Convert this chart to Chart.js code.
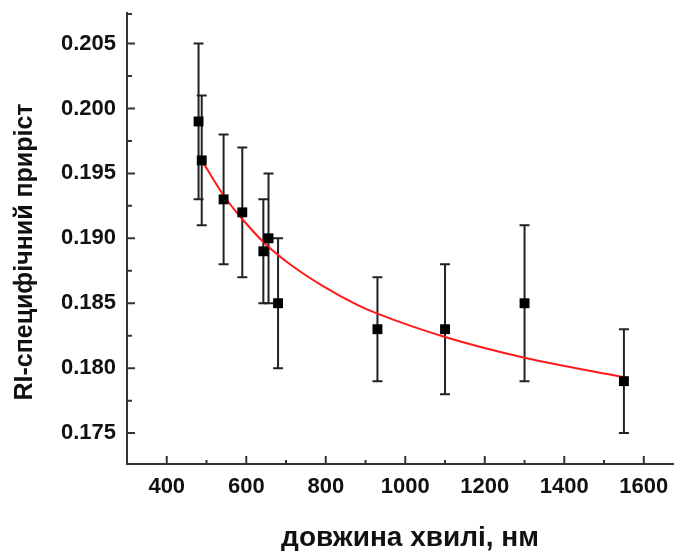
<!DOCTYPE html>
<html>
<head>
<meta charset="utf-8">
<script src="https://cdn.jsdelivr.net/npm/chart.js@4.4.0/dist/chart.umd.min.js"></script>
<style>
  html, body { margin: 0; padding: 0; background: #fff; overflow: hidden; }
  #wrap { width: 674px; height: 551px; }
  canvas { display: block; }
</style>
</head>
<body>
<div id="wrap"><canvas id="ch"></canvas></div>
<script>
// measured points
let wavelength = [480, 488, 543, 590, 643, 656, 680, 930, 1100, 1300, 1550];
let riGain     = [0.199, 0.196, 0.193, 0.192, 0.189, 0.190, 0.185, 0.183, 0.183, 0.185, 0.179];
let errLow     = [0.193, 0.191, 0.188, 0.187, 0.185, 0.185, 0.180, 0.179, 0.178, 0.179, 0.175];
let errHigh    = [0.205, 0.201, 0.198, 0.197, 0.193, 0.195, 0.190, 0.187, 0.188, 0.191, 0.183];

// fit curve
let fitX = [488, 543, 584, 647, 710, 794, 878, 930, 1100, 1300, 1550];
let fitY = [0.1960, 0.1933, 0.1917, 0.1896, 0.1880, 0.1863, 0.1849, 0.1842, 0.1824, 0.1808, 0.1793];

let xTicks = [400, 600, 800, 1000, 1200, 1400, 1600];
let xMinor = [300, 500, 700, 900, 1100, 1300, 1500];
let yTicks = [0.175, 0.180, 0.185, 0.190, 0.195, 0.200, 0.205];
let yMinor = [0.1775, 0.1825, 0.1875, 0.1925, 0.1975, 0.2025];

const axisColor = '#333';
const fontFam = 'Liberation Sans, Arial, sans-serif';

const errorBars = {
    id: 'errorBars',
    beforeDatasetsDraw(chart) {
        const ctx = chart.ctx;
        const xs = chart.scales.x, ys = chart.scales.y;
        ctx.save();
        ctx.strokeStyle = '#222';
        ctx.lineWidth = 2;
        wavelength.forEach((w, i) => {
            const px = xs.getPixelForValue(w);
            const top = ys.getPixelForValue(errHigh[i]);
            const bot = ys.getPixelForValue(errLow[i]);
            ctx.beginPath();
            ctx.moveTo(px, top); ctx.lineTo(px, bot);
            ctx.moveTo(px - 5, top); ctx.lineTo(px + 5, top);
            ctx.moveTo(px - 5, bot); ctx.lineTo(px + 5, bot);
            ctx.stroke();
        });
        ctx.restore();
    }
};

const innerTicks = {
    id: 'innerTicks',
    afterDraw(chart) {
        const ctx = chart.ctx;
        const xs = chart.scales.x, ys = chart.scales.y;
        const a = chart.chartArea;
        ctx.save();
        ctx.strokeStyle = axisColor;
        ctx.lineWidth = 2;
        ctx.beginPath();
        xTicks.forEach(v => { const p = xs.getPixelForValue(v); ctx.moveTo(p, a.bottom); ctx.lineTo(p, a.bottom - 8); });
        xMinor.forEach(v => { const p = xs.getPixelForValue(v); ctx.moveTo(p, a.bottom); ctx.lineTo(p, a.bottom - 4); });
        yTicks.forEach(v => { const p = ys.getPixelForValue(v); ctx.moveTo(a.left, p); ctx.lineTo(a.left + 8, p); });
        yMinor.forEach(v => { const p = ys.getPixelForValue(v); ctx.moveTo(a.left, p); ctx.lineTo(a.left + 5, p); });
        ctx.moveTo(a.left, a.top + 1); ctx.lineTo(a.left + 5, a.top + 1);
        ctx.stroke();

        // axis titles
        ctx.fillStyle = '#111';
        ctx.textAlign = 'center';
        ctx.textBaseline = 'middle';
        ctx.font = 'bold 28px ' + fontFam;
        ctx.fillText('довжина хвилі, нм', 410, 538);
        ctx.translate(25, 252);
        ctx.rotate(-Math.PI / 2);
        ctx.font = 'bold 25px ' + fontFam;
        ctx.fillText('RI-специфічний приріст', 0, 0);
        ctx.restore();
    }
};

const ch = document.getElementById('ch').getContext('2d');
const chart = new Chart(ch, {
    type: 'scatter',
    data: {
        datasets: [
            {
                label: 'fit',
                data: fitX.map((x, i) => ({x: x, y: fitY[i]})),
                showLine: true,
                borderColor: '#ff1a1a',
                borderWidth: 2,
                pointRadius: 0,
                cubicInterpolationMode: 'monotone',
                order: 2
            },
            {
                label: 'RI',
                data: wavelength.map((x, i) => ({x: x, y: riGain[i]})),
                pointStyle: 'rect',
                pointRadius: 7,
                pointHoverRadius: 7,
                backgroundColor: '#000',
                borderColor: '#000',
                borderWidth: 0,
                order: 1
            }
        ]
    },
    options: {
        responsive: true,
        maintainAspectRatio: false,
        animation: false,
        layout: { autoPadding: false, padding: { top: 13, right: 0, left: 0, bottom: 0 } },
        scales: {
            x: {
                type: 'linear',
                bounds: 'data',
                min: 300,
                max: 1676,
                afterBuildTicks: s => { s.ticks = xTicks.map(v => ({value: v})); },
                afterFit: s => { s.height = 87; s.paddingLeft = 0; s.paddingRight = 0; },
                grid: { display: false, drawTicks: false },
                border: { display: true, color: axisColor, width: 2 },
                ticks: {
                    color: '#111',
                    padding: 10,
                    callback: v => String(v),
                    font: { family: fontFam, size: 22, weight: 'bold' }
                }
            },
            y: {
                bounds: 'data',
                min: 0.17262,
                max: 0.20735,
                afterBuildTicks: s => { s.ticks = yTicks.map(v => ({value: v})); },
                afterFit: s => { s.width = 127; s.paddingTop = 0; s.paddingBottom = 0; s.paddingLeft = 0; s.paddingRight = 0; },
                grid: { display: false, drawTicks: false },
                border: { display: true, color: axisColor, width: 2 },
                ticks: {
                    color: '#111',
                    padding: 11,
                    callback: v => v.toFixed(3),
                    font: { family: fontFam, size: 22, weight: 'bold' }
                }
            }
        },
        plugins: {
            legend: { display: false },
            tooltip: { enabled: false }
        }
    },
    plugins: [errorBars, innerTicks]
});
</script>
</body>
</html>
